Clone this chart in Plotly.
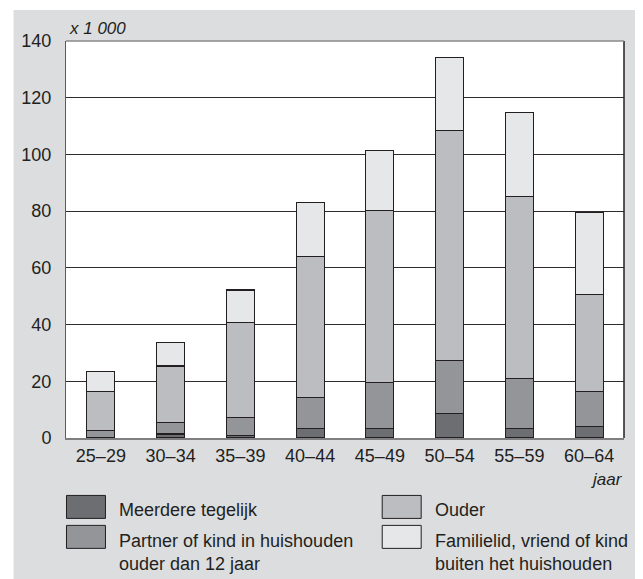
import plotly.graph_objects as go

categories = ["25–29", "30–34", "35–39", "40–44", "45–49", "50–54", "55–59", "60–64"]
meerdere = [0.0, 1.4, 0.9, 3.4, 3.3, 8.8, 3.4, 4.2]
partner = [2.6, 4.0, 6.4, 10.9, 16.3, 18.4, 17.6, 12.3]
ouder = [13.9, 20.0, 33.4, 49.8, 60.7, 81.2, 64.3, 34.0]
familie = [6.9, 8.4, 11.5, 18.9, 21.2, 25.8, 29.4, 29.0]
y_ticks = [0, 20, 40, 60, 80, 100, 120, 140]

series = [
    ("Meerdere tegelijk", meerdere, "#6d6e71"),
    ("Partner of kind in huishouden<br>ouder dan 12 jaar", partner, "#939598"),
    ("Ouder", ouder, "#bcbdc0"),
    ("Familielid, vriend of kind<br>buiten het huishouden", familie, "#e6e7e8"),
]

# page offset of the figure div (default body margin)
OFF = 8
PAGE_W, PAGE_H = 643, 579
W, H = PAGE_W - OFF, PAGE_H - OFF
# plot area in page pixels
P_LEFT, P_RIGHT, P_TOP, P_BOTTOM = 65.5, 624, 41, 438.5
L, R, T, B = P_LEFT - OFF, PAGE_W - P_RIGHT, P_TOP - OFF, PAGE_H - P_BOTTOM
PW, PH = P_RIGHT - P_LEFT, P_BOTTOM - P_TOP
TXT = "#231f20"
FONT = "Liberation Sans, Arial, sans-serif"


def px(x):
    """page x pixel -> paper x"""
    return (x - P_LEFT) / PW


def py(y):
    """page y pixel -> paper y"""
    return (P_BOTTOM - y) / PH


fig = go.Figure()
for name, vals, col in series:
    fig.add_trace(go.Bar(
        x=categories, y=vals, name=name, width=0.4,
        marker=dict(color=col, line=dict(color=TXT, width=1.1)),
        showlegend=False,
    ))

shapes = [
    # white strips outside the grey panel
    dict(type="rect", xref="paper", yref="paper", x0=px(0), x1=px(13), y0=py(PAGE_H + 5), y1=py(0),
         fillcolor="white", line=dict(width=0), layer="below"),
    dict(type="rect", xref="paper", yref="paper", x0=px(0), x1=px(PAGE_W + 5), y0=py(10), y1=py(0),
         fillcolor="white", line=dict(width=0), layer="below"),
    # right border of plot
    dict(type="line", xref="paper", yref="paper", x0=1, x1=1, y0=0, y1=1,
         line=dict(color=TXT, width=1.5)),
    # top border
    dict(type="line", xref="paper", yref="paper", x0=0, x1=1, y0=1, y1=1,
         line=dict(color="#8a8a8c", width=1.5)),
]

annotations = [
    dict(text="x 1 000", xref="paper", yref="paper", x=px(67), y=py(28),
         xanchor="left", yanchor="middle", showarrow=False,
         font=dict(family=FONT, size=17, color=TXT, style="italic")),
    dict(text="jaar", xref="paper", yref="paper", x=px(625), y=py(480),
         xanchor="right", yanchor="middle", showarrow=False,
         font=dict(family=FONT, size=17, color=TXT, style="italic")),
]

# legend, drawn by hand in two columns
leg_pos = [(66, 496), (66, 526), (382, 496), (382, 526)]
for (name, vals, col), (lx, ly) in zip(series, leg_pos):
    shapes.append(dict(type="rect", xref="paper", yref="paper",
                       x0=px(lx), x1=px(lx + 39), y0=py(ly + 23), y1=py(ly),
                       fillcolor=col, line=dict(color=TXT, width=1)))
    nlines = name.count("<br>") + 1
    cy = ly + 15 + (nlines - 1) * 12
    annotations.append(dict(text=name, xref="paper", yref="paper",
                            x=px(lx + 51), y=py(cy), xanchor="left", yanchor="middle",
                            align="left", showarrow=False,
                            font=dict(family=FONT, size=18, color=TXT)))

fig.update_layout(
    width=W, height=H,
    margin=dict(l=L, r=R, t=T, b=B, pad=0),
    barmode="stack",
    paper_bgcolor="#dcdddf",
    plot_bgcolor="white",
    font=dict(family=FONT, size=18, color=TXT),
    shapes=shapes,
    annotations=annotations,
    bargap=0.6,
)
fig.update_xaxes(
    type="category", range=[-0.5, 7.5],
    showline=True, linecolor="#7f7f81", linewidth=2,
    showgrid=False, ticks="", ticklabelstandoff=0,
    tickfont=dict(family=FONT, size=18, color=TXT),
)
fig.update_yaxes(
    range=[0, 140], tickvals=y_ticks, ticktext=[str(v) for v in y_ticks],
    showgrid=True, gridcolor="#2e2b2c", gridwidth=1.1,
    zeroline=False, showline=True, linecolor="#5a5a5c", linewidth=1,
    ticks="", ticklabelstandoff=10,
    tickfont=dict(family=FONT, size=18, color=TXT),
)

fig.write_html("out.html")
